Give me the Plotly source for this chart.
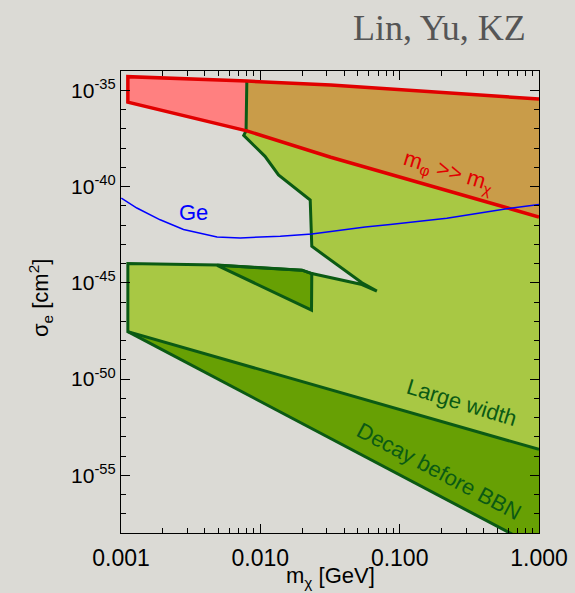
import numpy as np
import plotly.graph_objects as go

# --- m_phi >> m_chi band (red) ---
red_top_m = [0.00112, 0.008, 0.032, 1.0]
red_top_sigma = [5.1e-35, 3.0e-35, 1.86e-35, 3.5e-36]
red_low_m = [0.00112, 0.008, 0.032, 1.0]
red_low_sigma = [2.4e-36, 7.8e-38, 3.3e-39, 2.6e-42]

# --- upper-left edge of the allowed (large width) region ---
edge_m = [0.008, 0.0079, 0.0076, 0.0108, 0.0135, 0.0228, 0.0234, 0.0536,
          0.0686, 0.0536, 0.0234, 0.0199, 0.0049, 0.00112, 0.00112]
edge_sigma = [3.0e-35, 7.8e-38, 4.5e-38, 3.7e-39, 4.0e-40, 2.0e-41, 7.8e-44, 1.0e-45,
              3.7e-46, 8.1e-46, 3.0e-45, 4.5e-45, 8.3e-45, 1.0e-44, 2.9e-48]

# --- "Large width" boundary ---
width_m = [0.00112, 1.0]
width_sigma = [2.9e-48, 2.2e-54]

# --- "Decay before BBN" boundary ---
bbn_m = [0.00112, 1.0]
bbn_sigma = [2.9e-48, 1.6e-59]

# --- small dark wedge below the notch ---
wedge_m = [0.0049, 0.0199, 0.0234, 0.0233]
wedge_sigma = [8.0e-45, 4.5e-45, 3.0e-45, 3.8e-47]

# --- Ge direct detection curve ---
ge_m = [0.001005, 0.0011, 0.0013, 0.00191, 0.00281, 0.00489, 0.00718, 0.0139,
        0.0234, 0.0566, 0.0855, 0.218, 0.603, 1.0]
ge_sigma = [2.5e-41, 1.66e-41, 7.6e-42, 1.86e-42, 5.8e-43, 2.4e-43, 2.14e-43, 2.57e-43,
            3.4e-43, 7.9e-43, 1.05e-42, 2.24e-42, 7.2e-42, 1.17e-41]

# axis ticks
x_tickvals = [0.001, 0.01, 0.1, 1.0]
x_ticktext = ["0.001", "0.010", "0.100", "1.000"]
y_exponents = [-55, -50, -45, -40, -35]

BG = "#dbdad5"
PINK = "#ff8080"
BROWN = "#c99c49"
LIGHT_GREEN = "#a8c844"
DARK_GREEN = "#67a004"
EDGE_GREEN = "#0b5a14"
RED = "#e10000"
BLUE = "#0000ff"

fig = go.Figure()


def poly(xs, ys, color):
    fig.add_trace(go.Scatter(x=xs, y=ys, mode="lines", fill="toself",
                             fillcolor=color, line=dict(width=0),
                             hoverinfo="skip", showlegend=False))


def path(xs, ys, color, width):
    fig.add_trace(go.Scatter(x=xs, y=ys, mode="lines",
                             line=dict(color=color, width=width),
                             hoverinfo="skip", showlegend=False))


# red band (pink where it stands alone)
poly(red_top_m + red_low_m[::-1], red_top_sigma + red_low_sigma[::-1], PINK)

# allowed region: notch edge, large-width line, right edge, top red line
upper = [(m, s) for m, s in zip(red_top_m, red_top_sigma) if m > edge_m[0]]
gx = edge_m + width_m[1:] + [m for m, _ in upper][::-1]
gy = edge_sigma + width_sigma[1:] + [s for _, s in upper][::-1]
poly(gx, gy, LIGHT_GREEN)

# overlap of red band and allowed region
ov_top = [(m, s) for m, s in zip(red_top_m, red_top_sigma) if m >= edge_m[0]]
ov_low = [(m, s) for m, s in zip(red_low_m, red_low_sigma) if m >= edge_m[0]]
poly([m for m, _ in ov_top] + [m for m, _ in ov_low][::-1],
     [s for _, s in ov_top] + [s for _, s in ov_low][::-1], BROWN)

# decay before BBN wedge
poly(width_m + bbn_m[::-1][:1], width_sigma + bbn_sigma[::-1][:1], DARK_GREEN)

# small wedge
poly(wedge_m, wedge_sigma, DARK_GREEN)

# green outlines
path(edge_m + width_m[1:], edge_sigma + width_sigma[1:], EDGE_GREEN, 3)
path(bbn_m, bbn_sigma, EDGE_GREEN, 3)
path(wedge_m + wedge_m[:1], wedge_sigma + wedge_sigma[:1], EDGE_GREEN, 3)

# red band outline
path(red_top_m[::-1] + red_low_m, red_top_sigma[::-1] + red_low_sigma, RED, 3.5)

# Ge curve
path(ge_m, ge_sigma, BLUE, 1.5)

L, R, T, B = 121, 36, 71, 60
W, H = 575, 593
pw, ph = W - L - R, H - T - B


def px_to_paper(px, py):
    return (px - L) / pw, (H - B - py) / ph


sans = "Liberation Sans, Arial, sans-serif"
x_tick_font = dict(family=sans, size=23, color="black")
y_tick_font = dict(family=sans, size=21, color="black")
label_font = dict(family=sans, size=22)

x_minor = [k * 10.0 ** d for d in (-3, -2, -1) for k in range(2, 10)]
y_minor = [10.0 ** e for e in range(-58, -33) if e not in y_exponents]

fig.update_xaxes(type="log", range=[-3, 0], tickvals=x_tickvals, ticktext=x_ticktext,
                 ticks="inside", ticklen=9, tickwidth=1.2, tickcolor="black",
                 ticklabelstandoff=4, automargin=False,
                 minor=dict(tickvals=x_minor, ticks="inside", ticklen=5,
                            tickwidth=1.2, tickcolor="black", showgrid=False),
                 showline=True, linecolor="black", linewidth=1.2, mirror="ticks",
                 showgrid=False, zeroline=False, tickfont=x_tick_font)
fig.update_yaxes(type="log", range=[-58, -34], automargin=False,
                 tickvals=[10.0 ** e for e in y_exponents],
                 ticktext=[f"10<sup>{e}</sup>" for e in y_exponents],
                 ticks="inside", ticklen=9, tickwidth=1.2, tickcolor="black",
                 minor=dict(tickvals=y_minor, ticks="inside", ticklen=5,
                            tickwidth=1.2, tickcolor="black", showgrid=False),
                 showline=True, linecolor="black", linewidth=1.2, mirror="ticks",
                 showgrid=False, zeroline=False, tickfont=y_tick_font)

annotations = [
    dict(x=np.log10(3.29e-3), y=np.log10(4.5e-42), xref="x", yref="y",
         text="Ge", showarrow=False, font=dict(label_font, color=BLUE)),
    dict(x=np.log10(0.223), y=np.log10(5.7e-40), xref="x", yref="y",
         text="m<sub>φ</sub> >> m<sub>χ</sub>", showarrow=False, textangle=17,
         font=dict(label_font, color=RED)),
    dict(x=np.log10(0.279), y=np.log10(6.2e-52), xref="x", yref="y",
         text="Large width", showarrow=False, textangle=17,
         font=dict(label_font, color=EDGE_GREEN)),
    dict(x=np.log10(0.193), y=np.log10(1.6e-55), xref="x", yref="y",
         text="Decay before BBN", showarrow=False, textangle=28,
         font=dict(label_font, color=EDGE_GREEN)),
]

tx, ty = px_to_paper(528, 28)
annotations.append(dict(x=tx, y=ty, xref="paper", yref="paper", xanchor="right",
                        yanchor="middle", text="Lin, Yu, KZ", showarrow=False,
                        font=dict(family="Liberation Serif, serif", size=36,
                                  color="#555555")))
ax, ay = px_to_paper(330, 577)
annotations.append(dict(x=ax, y=ay, xref="paper", yref="paper", xanchor="center",
                        yanchor="middle", text="m<sub>χ</sub> [GeV]", showarrow=False,
                        font=dict(family=sans, size=22, color="black")))
yx, yy = px_to_paper(40, 298)
annotations.append(dict(x=yx, y=yy, xref="paper", yref="paper", xanchor="center",
                        yanchor="middle", text="σ<sub>e</sub> [cm<sup>2</sup>]",
                        textangle=-90, showarrow=False,
                        font=dict(label_font, color="black")))

fig.update_layout(width=W, height=H, margin=dict(l=L, r=R, t=T, b=B, autoexpand=False),
                  paper_bgcolor=BG, plot_bgcolor=BG, showlegend=False,
                  annotations=annotations)

fig.write_html("out.html")
